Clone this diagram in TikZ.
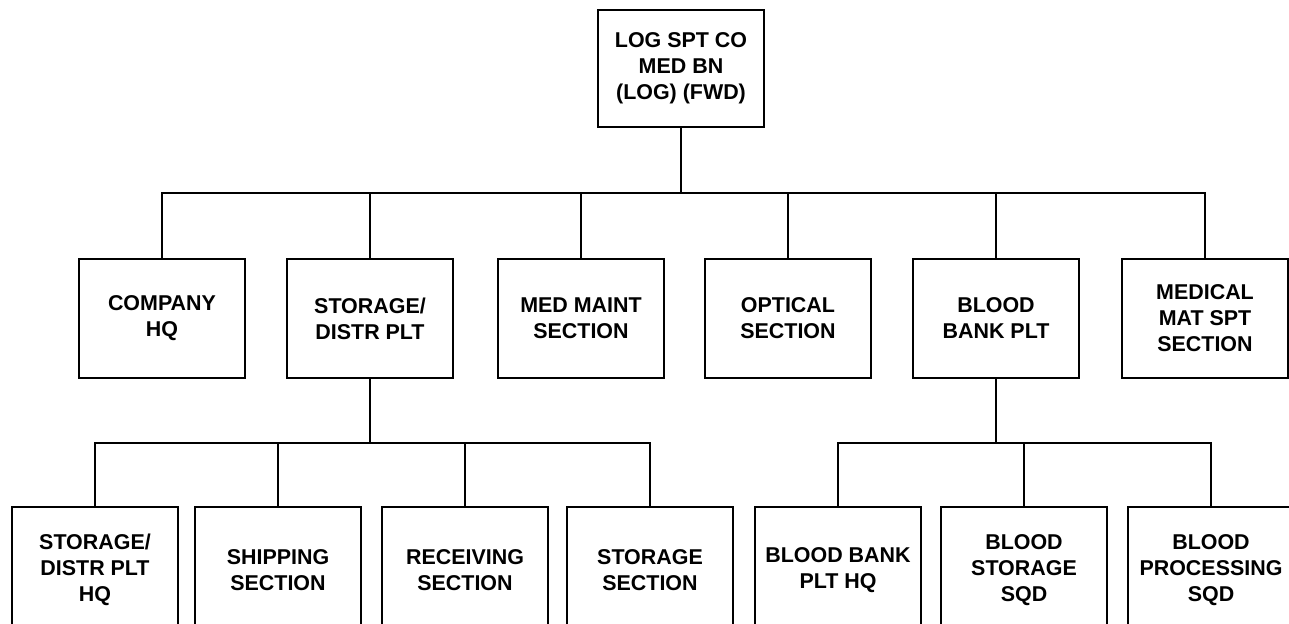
\documentclass[tikz,border=0pt]{standalone}
\usepackage{fontspec}
\setmainfont{Liberation Sans}
\begin{document}
\tikzset{
  org/.style={draw, line width=1.4pt, minimum width=3.32cm, inner sep=0pt, outer sep=0pt,
    align=center, font=\fontsize{12.2}{14.8}\selectfont\bfseries},
  topbox/.style={org, minimum height=2.34cm},
  midbox/.style={org, minimum height=2.38cm},
  lowbox/.style={org, minimum height=2.52cm},
  link/.style={line width=1.4pt, line join=miter}
}
\begin{tikzpicture}[x=0.02cm, y=-0.02cm]
\useasboundingbox (0,0) rectangle (1289,624);
\clip (0,0) rectangle (1289,624);

% top
\node[topbox] (top) at (681,68.5) {LOG SPT CO\\MED BN\\(LOG) (FWD)};

% middle row
\node[midbox] (hq)  at (162,318.5) {COMPANY\\HQ};
\node[midbox] (sd)  at (370,318.5) {STORAGE/\\DISTR PLT};
\node[midbox] (mm)  at (581,318.5) {MED MAINT\\SECTION};
\node[midbox] (op)  at (788,318.5) {OPTICAL\\SECTION};
\node[midbox] (bb)  at (996,318.5) {BLOOD\\BANK PLT};
\node[midbox] (mat) at (1205,318.5) {MEDICAL\\MAT SPT\\SECTION};

% bottom row
\node[lowbox] (sdhq) at (95,570)  {STORAGE/\\DISTR PLT\\HQ};
\node[lowbox] (ship) at (278,570) {SHIPPING\\SECTION};
\node[lowbox] (rec)  at (465,570) {RECEIVING\\SECTION};
\node[lowbox] (sto)  at (650,570) {STORAGE\\SECTION};
\node[lowbox] (bbhq) at (838,570) {BLOOD BANK\\PLT HQ};
\node[lowbox] (bst)  at (1024,570) {BLOOD\\STORAGE\\SQD};
\node[lowbox] (bpr)  at (1211,570) {BLOOD\\PROCESSING\\SQD};

% bar levels
\coordinate (bar1) at (0,193);
\coordinate (bar2) at (0,443);

% top -> middle
\draw[link] (top.south) -- (top.south |- bar1);
\draw[link] (hq.north) |- (mat.north |- bar1) -- (mat.north);
\foreach \n in {sd,mm,op,bb}
  \draw[link] (\n.north) -- (\n.north |- bar1);

% storage/distr -> children
\draw[link] (sd.south) -- (sd.south |- bar2);
\draw[link] (sdhq.north) |- (sto.north |- bar2) -- (sto.north);
\foreach \n in {ship,rec}
  \draw[link] (\n.north) -- (\n.north |- bar2);

% blood bank -> children
\draw[link] (bb.south) -- (bb.south |- bar2);
\draw[link] (bbhq.north) |- (bpr.north |- bar2) -- (bpr.north);
\draw[link] (bst.north) -- (bst.north |- bar2);
\end{tikzpicture}
\end{document}
